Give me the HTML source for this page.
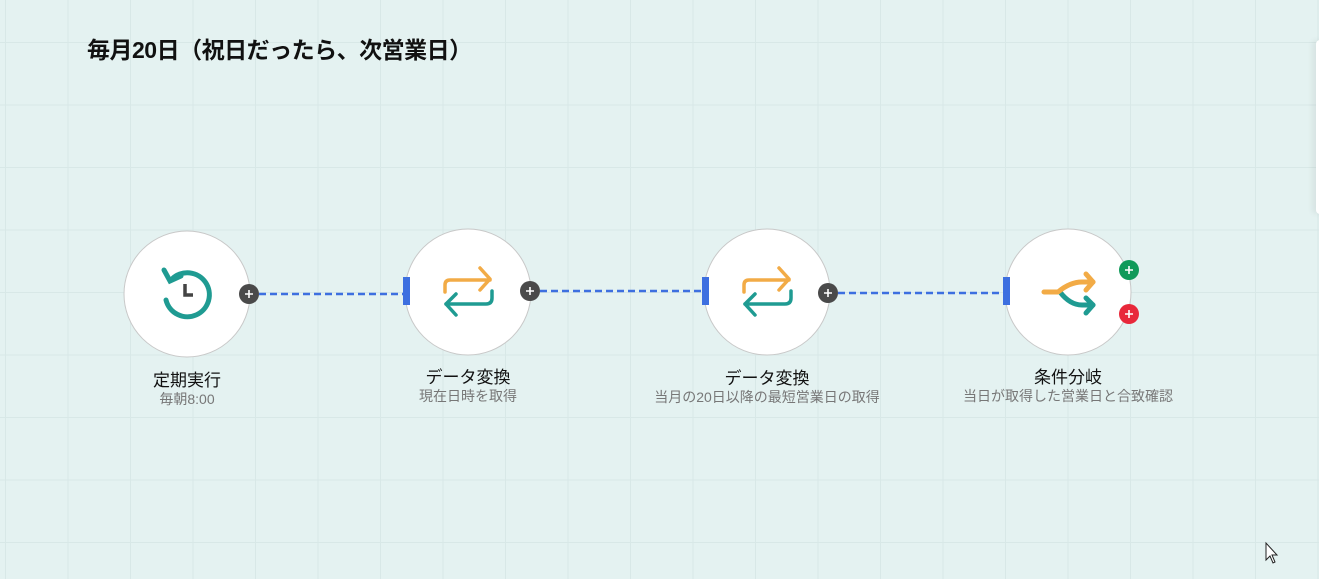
<!DOCTYPE html>
<html><head><meta charset="utf-8">
<style>
html,body{margin:0;padding:0;}
body{width:1319px;height:579px;overflow:hidden;position:relative;background:#e4f2f1;
font-family:"Liberation Sans","Noto Sans CJK JP",sans-serif;
background-image:linear-gradient(to right,#d8e8e7 1px,transparent 1px),linear-gradient(to bottom,#d8e8e7 1px,transparent 1px);
background-size:62.5px 62.5px;background-position:5px 42px;}
.title{position:absolute;left:87px;top:31px;font-size:23px;font-weight:bold;color:#111;white-space:nowrap;letter-spacing:-0.5px}
.panel{position:absolute;left:1316px;top:40px;width:10px;height:174px;background:#fff;border-radius:4px;box-shadow:-4px 0 6px rgba(0,0,0,0.06)}
.lbl{position:absolute;width:300px;text-align:center;font-size:17px;color:#111;white-space:nowrap}
.sub{position:absolute;width:300px;text-align:center;font-size:14px;color:#777;white-space:nowrap}
</style></head><body>
<div class="title">毎月20日（祝日だったら、次営業日）</div>
<div class="panel"></div>
<svg width="1319" height="579" style="position:absolute;left:0;top:0">
<g stroke="#3d6fe0" stroke-width="2.5" stroke-dasharray="7,4" fill="none">
<line x1="259" y1="294" x2="403" y2="294"/>
<line x1="540" y1="291" x2="702" y2="291"/>
<line x1="838" y1="293" x2="1003" y2="293"/>
</g>
<g fill="#fff" stroke="#c8c8c8" stroke-width="1">
<circle cx="187" cy="294" r="63"/>
<circle cx="468" cy="292" r="63"/>
<circle cx="767" cy="292" r="63"/>
<circle cx="1068" cy="292" r="63"/>
</g>
<g fill="#3d6fe0">
<rect x="403" y="277" width="7" height="28"/>
<rect x="702" y="277" width="7" height="28"/>
<rect x="1003" y="277" width="7" height="28"/>
</g>
<g fill="none" stroke="#1f9b92" stroke-width="5" stroke-linecap="round">
<path d="M172 279 A22 22 0 1 1 166 300"/>
<path d="M164 270 L170 281 L181 276"/>
</g>
<path d="M185 284 L185 295 L193 295" fill="none" stroke="#444" stroke-width="3.5"/>
<g id="tr" fill="none" stroke-width="3.5" stroke-linecap="round" stroke-linejoin="round">
<path d="M445 292 V285 Q445 280 450 280 H490" stroke="#f2ab46"/>
<path d="M480 268 L490 279 L480 290" stroke="#f2ab46"/>
<path d="M492 291 V298 Q492 304 486 304 H446" stroke="#1f9b92"/>
<path d="M456 294 L446 304 L456 315" stroke="#1f9b92"/>
</g>
<use href="#tr" x="299" y="0"/>
<g fill="none" stroke-width="5" stroke-linecap="round" stroke-linejoin="round">
<path d="M1060 292 Q1070 305 1082 305 H1093" stroke="#1f9b92"/>
<path d="M1086 298 L1093 305 L1086 313" stroke="#1f9b92"/>
<path d="M1044 292 H1058 Q1070 282 1082 282 H1093" stroke="#f2ab46"/>
<path d="M1086 274 L1093 282 L1086 290" stroke="#f2ab46"/>
</g>
<g>
<circle cx="249" cy="294" r="10" fill="#4a4a4a"/>
<circle cx="530" cy="291" r="10" fill="#4a4a4a"/>
<circle cx="828" cy="293" r="10" fill="#4a4a4a"/>
<circle cx="1129" cy="270" r="10" fill="#109a5a"/>
<circle cx="1129" cy="314" r="10" fill="#e8283a"/>
</g>
<g stroke="#fff" stroke-width="1.6">
<path d="M245 294h8M249 290v8"/>
<path d="M526 291h8M530 287v8"/>
<path d="M824 293h8M828 289v8"/>
<path d="M1125 270h8M1129 266v8"/>
<path d="M1125 314h8M1129 310v8"/>
</g>
<path d="M1266 543 L1266 560 L1270 556 L1273 563 L1275 562 L1272 555 L1277 555 Z" fill="#fff" stroke="#222" stroke-width="1"/>
</svg>
<div class="lbl" style="left:37px;top:366px">定期実行</div>
<div class="sub" style="left:37px;top:389px">毎朝8:00</div>
<div class="lbl" style="left:318px;top:363px">データ変換</div>
<div class="sub" style="left:318px;top:386px">現在日時を取得</div>
<div class="lbl" style="left:617px;top:364px">データ変換</div>
<div class="sub" style="left:617px;top:387px">当月の20日以降の最短営業日の取得</div>
<div class="lbl" style="left:918px;top:363px">条件分岐</div>
<div class="sub" style="left:918px;top:386px">当日が取得した営業日と合致確認</div>
</body></html>
